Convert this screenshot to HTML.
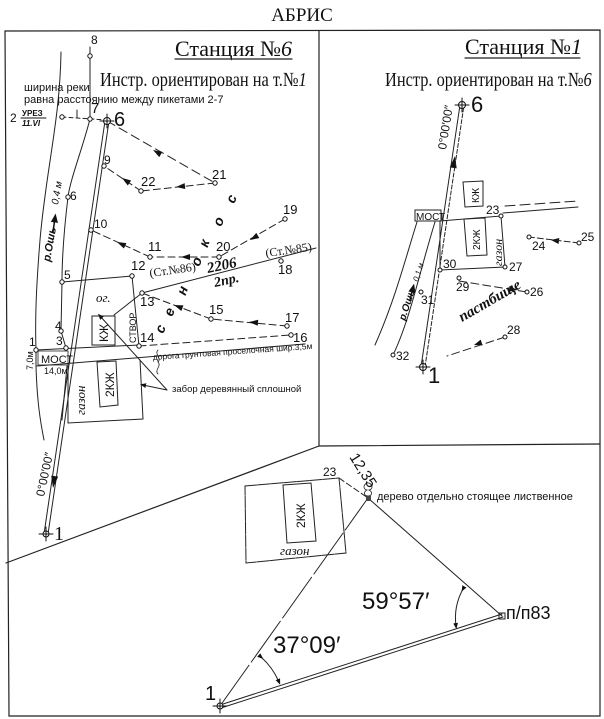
<!DOCTYPE html>
<html><head><meta charset="utf-8"><style>
html,body{margin:0;padding:0;background:#fff}
svg{display:block}
text{font-family:"Liberation Sans","DejaVu Sans",sans-serif;fill:#111}
.s{font-family:"Liberation Serif",serif}
.n{font-size:11px;font-family:"Liberation Sans Narrow","Liberation Sans",sans-serif}
</style></head><body>
<svg width="604" height="719" viewBox="0 0 604 719" xmlns="http://www.w3.org/2000/svg" stroke-linecap="round">
<defs>
<marker id="ar" viewBox="0 0 10 10" refX="5" refY="5" markerWidth="6" markerHeight="6" orient="auto"><path d="M0,1 L10,5 L0,9z" fill="#111"/></marker>
</defs>
<text x="302" y="21" font-size="19" text-anchor="middle" class="s">АБРИС</text>
<g fill="none" stroke="#222" stroke-width="1.2">
<path d="M5,31 L600,30 L600,716 L9,716 Z"/>
<path d="M319,31 L319,446 L600,444"/>
<path d="M6,563 L319,446"/>
</g>

<!-- ===== Station 6 ===== -->
<text x="175" y="56" font-size="22" class="s">Станция №<tspan font-style="italic">6</tspan></text>
<line x1="175" y1="59" x2="292" y2="59" stroke="#222" stroke-width="1.2"/>
<text x="100" y="86" font-size="20" class="s" transform="translate(100,86) scale(0.82,1) translate(-100,-86)">Инстр. ориентирован на т.№<tspan font-style="italic">1</tspan></text>
<text x="24" y="91" class="n" font-size="10">ширина реки</text>
<text x="24" y="103" class="n" font-size="10">равна расстоянию между пикетами 2-7</text>
<text x="10" y="122" font-size="12">2</text>
<text x="22" y="116" font-size="8" font-weight="bold">УРЕЗ</text>
<line x1="21" y1="118" x2="46" y2="118" stroke="#111"/>
<text x="22" y="126" font-size="8" font-weight="bold" font-style="italic">11.VI</text>
<g fill="none" stroke="#222" stroke-width="1">
<path d="M61,52 C60,120 46,170 40,240 C36,290 35,320 36,350"/>
<path d="M36,366 C37,400 40,420 44,440"/>
<path d="M90,47 L90,119 C82,150 70,180 68,197 C64,230 62,260 62,282 L61,331 L66,348"/>
<path d="M67,366 L62,420"/>
<line x1="62" y1="117" x2="107" y2="120" stroke-dasharray="4,3"/>
<line x1="77" y1="110" x2="77" y2="117"/>
<line x1="105" y1="121" x2="44" y2="534"/>
<line x1="109" y1="121" x2="48" y2="534"/>
<path d="M107,121 L215,183" stroke-dasharray="9,5"/>
<path d="M215,183 L141,191" stroke-dasharray="7,4"/>
<path d="M141,191 L104,166" stroke-dasharray="7,4"/>
<path d="M285,219 L219,257" stroke-dasharray="7,4"/>
<path d="M219,257 L150,257" stroke-dasharray="7,4"/>
<path d="M150,257 L91,230" stroke-dasharray="7,4"/>
<path d="M287,326 L211,319" stroke-dasharray="7,4"/>
<path d="M211,319 L142,293" stroke-dasharray="7,4"/>
<path d="M139,346 L291,335" stroke-dasharray="7,4"/>
<line x1="142" y1="293" x2="316" y2="248"/>
<path d="M62,282 L132,276 L139,346"/>
<path d="M114,315 L142,293"/>
<rect x="92" y="316" width="23" height="29"/>
<path d="M36,350 L139,345"/>
<path d="M37,366 L305,344"/>
<path d="M36,350 L36,366"/>
<rect x="38" y="351" width="30" height="14" stroke-width="0.8"/>
<path d="M68,366 L68,423 L143,419 L140,360"/>
<path d="M97,362 L116,361 L118,405 L100,407 Z"/>
<path d="M167,390 L100,316" marker-end="url(#ar)"/>
<path d="M167,390 L143,385" marker-end="url(#ar)"/>
<path d="M158,350 c-4,4 4,8 0,12 c4,4 -4,8 0,12" stroke-width="0.8"/>
</g>
<!-- arrowheads -->
<g fill="#111">
<path d="M0,0 L-9,-3 L-9,3z" transform="translate(153,150) rotate(210)"/>
<path d="M0,0 L-9,-3 L-9,3z" transform="translate(176,187) rotate(174)"/>
<path d="M0,0 L-9,-3 L-9,3z" transform="translate(122,178) rotate(214)"/>
<path d="M0,0 L-9,-3 L-9,3z" transform="translate(250,240) rotate(150)"/>
<path d="M0,0 L-9,-3 L-9,3z" transform="translate(181,257) rotate(180)"/>
<path d="M0,0 L-9,-3 L-9,3z" transform="translate(117,242) rotate(205)"/>
<path d="M0,0 L-9,-3 L-9,3z" transform="translate(249,322) rotate(185)"/>
<path d="M0,0 L-9,-3 L-9,3z" transform="translate(174,305) rotate(201)"/>
<path d="M0,0 L-12,-3.5 L-12,3.5z" transform="translate(53,488) rotate(98)"/>
<path d="M0,0 L-12,-3.5 L-12,3.5z" transform="translate(455,156) rotate(-81.5)"/>
<path d="M0,0 L-8,-3 L-8,3z" transform="translate(551,240) rotate(187)"/>
<path d="M0,0 L-8,-3 L-8,3z" transform="translate(517,290) rotate(9)"/>
<path d="M0,0 L-8,-3 L-8,3z" transform="translate(474,345) rotate(162)"/>
</g>
<g fill="#fff" stroke="#111" stroke-width="1">
<circle cx="90" cy="56" r="2.2"/><circle cx="90" cy="119" r="2.2"/><circle cx="62" cy="117" r="2.2"/>
<circle cx="104" cy="166" r="2.2"/><circle cx="91" cy="230" r="2.2"/><circle cx="141" cy="191" r="2.2"/>
<circle cx="215" cy="183" r="2.2"/><circle cx="150" cy="257" r="2.2"/><circle cx="219" cy="257" r="2.2"/>
<circle cx="285" cy="219" r="2.2"/><circle cx="132" cy="276" r="2.2"/><circle cx="142" cy="293" r="2.2"/>
<circle cx="281" cy="261" r="2.2"/><circle cx="211" cy="319" r="2.2"/><circle cx="287" cy="326" r="2.2"/>
<circle cx="291" cy="335" r="2.2"/><circle cx="139" cy="346" r="2.2"/><circle cx="68" cy="197" r="2.2"/>
<circle cx="62" cy="282" r="2.2"/><circle cx="61" cy="331" r="2.2"/><circle cx="66" cy="348" r="2.2"/>
<circle cx="36" cy="350" r="2.2"/>
<circle cx="107" cy="121" r="3.5"/><circle cx="46" cy="534" r="3"/>
</g>
<g stroke="#111"><line x1="100" y1="121" x2="114" y2="121"/><line x1="107" y1="114" x2="107" y2="128"/>
<line x1="39" y1="534" x2="53" y2="534"/><line x1="46" y1="527" x2="46" y2="541"/></g>
<g font-size="12">
<text x="91" y="44">8</text><text x="91" y="113" font-size="15">7</text><text x="114" y="126" font-size="20">6</text>
<text x="104" y="164">9</text><text x="94" y="228">10</text><text x="141" y="186" font-size="13">22</text>
<text x="212" y="179" font-size="13">21</text><text x="148" y="251" font-size="13">11</text><text x="216" y="251" font-size="13">20</text>
<text x="283" y="214" font-size="13">19</text><text x="131" y="270" font-size="13">12</text><text x="140" y="306" font-size="13">13</text>
<text x="278" y="274" font-size="13">18</text><text x="209" y="314" font-size="13">15</text><text x="285" y="322" font-size="13">17</text>
<text x="293" y="342" font-size="13">16</text><text x="140" y="342" font-size="13">14</text>
<text x="70" y="200">6</text><text x="64" y="279">5</text><text x="55" y="330">4</text><text x="56" y="345">3</text>
<text x="29" y="346">1</text><text x="54" y="540" font-size="20" class="s">1</text>
</g>
<text class="s" font-size="12" x="150" y="277" transform="rotate(-8 150 277)">(Ст.№86)</text>
<text class="s" font-size="12" x="266" y="257" transform="rotate(-8 266 257)">(Ст.№85)</text>
<text class="s" font-size="15" font-weight="bold" font-style="italic" x="208" y="273" transform="rotate(-12 208 273)">2206</text>
<text class="s" font-size="14" font-weight="bold" font-style="italic" x="215" y="287" transform="rotate(-12 215 287)">2пр.</text>
<g class="s" font-size="14" font-weight="bold" font-style="italic">
<text x="228" y="203" transform="rotate(-70 232 199)">с</text>
<text x="215" y="226" transform="rotate(-70 219 222)">о</text>
<text x="201" y="247" transform="rotate(-70 205 243)">к</text>
<text x="193" y="266" transform="rotate(-70 197 262)">о</text>
<text x="179" y="295" transform="rotate(-70 183 291)">н</text>
<text x="166" y="316" transform="rotate(-70 170 312)">е</text>
<text x="157" y="333" transform="rotate(-70 161 329)">с</text>
</g>
<text x="96" y="302" class="s" font-style="italic" font-size="13">ог.</text>
<text x="0" y="0" font-size="12" transform="translate(108,342) rotate(-90)">КЖ</text>
<text x="0" y="0" font-size="12" transform="translate(114,397) rotate(-90)">2КЖ</text>
<text x="0" y="0" font-size="13" class="s" font-style="italic" transform="translate(85,415) rotate(-90)">газон</text>
<text x="0" y="0" font-size="9" transform="translate(136,343) rotate(-90)">СТВОР</text>
<text x="41" y="363" font-size="11">МОСТ</text>
<text x="0" y="0" font-size="9" transform="translate(33,370) rotate(-90)">7,0м</text>
<text x="44" y="374" font-size="9">14,0м</text>
<text x="153" y="360" font-size="8.5" transform="rotate(-4 153 360)">дорога грунтовая проселочная шир.3,5м</text>
<text x="172" y="392" font-size="9.5">забор деревянный сплошной</text>
<text x="0" y="0" font-size="11" font-style="italic" font-weight="bold" transform="translate(50,262) rotate(-80)">р.Ошь</text>
<text x="0" y="0" font-size="10" font-style="italic" transform="translate(58,205) rotate(-80)">0,4 м</text>
<line x1="53" y1="232" x2="55" y2="218" stroke="#111" stroke-width="1.5" marker-end="url(#ar)"/>
<text x="0" y="0" font-size="12" transform="translate(44,497) rotate(-78)">0°00′00″</text>

<!-- ===== Station 1 ===== -->
<text x="465" y="54" font-size="22" class="s">Станция №<tspan font-style="italic">1</tspan></text>
<line x1="465" y1="58" x2="580" y2="58" stroke="#222" stroke-width="1.2"/>
<text x="385" y="86" font-size="20" class="s" transform="translate(385,86) scale(0.82,1) translate(-385,-86)">Инстр. ориентирован на т.№<tspan font-style="italic">6</tspan></text>
<g fill="none" stroke="#222" stroke-width="1">
<line x1="421" y1="367" x2="460" y2="105"/>
<line x1="425" y1="367" x2="464" y2="105" stroke-dasharray="4,2"/>
<path d="M375,345 C395,300 405,260 417,222"/>
<path d="M393,355 C410,320 420,270 435,222"/>
<rect x="415" y="210" width="26" height="11"/>
<path d="M440,221 L501,216 L505,267 L440,270 Z"/>
<path d="M503,213 L578,207"/>
<path d="M505,206 L578,201" stroke-dasharray="10,5"/>
<path d="M463,182 L483,181 L483,206 L465,207 Z"/>
<path d="M464,219 L485,218 L487,255 L467,256 Z"/>
<path d="M579,243 L529,237" stroke-dasharray="6,3"/>
<path d="M459,281 L527,292" stroke-dasharray="8,4"/>
<path d="M505,337 L447,356" stroke-dasharray="8,4"/>
</g>
<g fill="#fff" stroke="#111">
<circle cx="462" cy="105" r="3.5"/><circle cx="423" cy="367" r="3.5"/>
<circle cx="501" cy="216" r="2"/><circle cx="505" cy="267" r="2"/><circle cx="440" cy="270" r="2"/>
<circle cx="529" cy="237" r="2"/><circle cx="579" cy="243" r="2"/><circle cx="459" cy="278" r="2"/>
<circle cx="527" cy="292" r="2"/><circle cx="505" cy="337" r="2"/><circle cx="393" cy="355" r="2"/><circle cx="421" cy="292" r="2"/>
</g>
<g stroke="#111"><line x1="455" y1="105" x2="469" y2="105"/><line x1="462" y1="98" x2="462" y2="112"/>
<line x1="416" y1="367" x2="430" y2="367"/><line x1="423" y1="360" x2="423" y2="374"/></g>
<g font-size="12">
<text x="471" y="112" font-size="22">6</text><text x="428" y="383" font-size="22">1</text>
<text x="486" y="214">23</text><text x="509" y="271">27</text><text x="443" y="268">30</text>
<text x="532" y="250">24</text><text x="581" y="241">25</text><text x="456" y="291">29</text>
<text x="530" y="296">26</text><text x="507" y="334">28</text><text x="396" y="360">32</text><text x="421" y="304">31</text>
</g>
<text x="416" y="220" font-size="10">МОСТ</text>
<text x="0" y="0" font-size="10" transform="translate(479,203) rotate(-90)">КЖ</text>
<text x="0" y="0" font-size="10" transform="translate(480,250) rotate(-90)">2КЖ</text>
<text x="0" y="0" font-size="12" class="s" font-style="italic" transform="translate(502,266) rotate(-90)">газон</text>
<text x="0" y="0" font-size="12" transform="translate(446,150) rotate(-81)">0°00′00″</text>
<text x="0" y="0" font-size="15" class="s" font-style="italic" font-weight="bold" transform="translate(462,322) rotate(-30)">пастбище</text>
<text x="0" y="0" font-size="10" font-style="italic" font-weight="bold" transform="translate(405,321) rotate(-72)">р.Ошь</text>
<line x1="410" y1="300" x2="413" y2="288" stroke="#111" stroke-width="1.5" marker-end="url(#ar)"/>
<text x="0" y="0" font-size="8" font-style="italic" transform="translate(418,282) rotate(-72)">0,1 м</text>

<!-- ===== Bottom ===== -->
<g fill="none" stroke="#222" stroke-width="1">
<path d="M245,486 L339,478 L346,553 L246,563 Z" stroke-dasharray="12,1"/>
<path d="M283,485 L311,483 L316,541 L287,543 Z"/>
<path d="M220,706 L368,498" stroke-dasharray="50,4"/>
<path d="M339,478 L368,498" stroke-dasharray="6,3"/>
<path d="M368,498 L502,616"/>
<line x1="220" y1="705" x2="502" y2="614"/>
<line x1="221" y1="708" x2="503" y2="617"/>
<path d="M261,657 A70,70 0 0 1 279,682" marker-start="url(#ar)" marker-end="url(#ar)"/>
<path d="M463,589 A60,60 0 0 0 456,626" marker-start="url(#ar)" marker-end="url(#ar)"/>
<rect x="499" y="613" width="6" height="6"/>
<path d="M367,483 c-4,2 -4,6 0,7 c-4,2 -3,6 1,6 c4,0 5,-4 1,-6 c4,-1 4,-5 0,-7z" stroke-width="0.8"/>
</g>
<rect x="366" y="496" width="5" height="5" fill="#444"/>
<circle cx="220" cy="706" r="3" fill="#fff" stroke="#111"/>
<g stroke="#111"><line x1="213" y1="706" x2="227" y2="706"/><line x1="220" y1="699" x2="220" y2="713"/></g>
<text x="205" y="700" font-size="20" fill="#333">1</text>
<text x="323" y="476" font-size="12">23</text>
<text x="0" y="0" font-size="15" transform="translate(349,457) rotate(58)">12,35</text>
<text x="377" y="500" font-size="9.5" class="n">дерево отдельно стоящее лиственное</text>
<text x="0" y="0" font-size="12" transform="translate(305,528) rotate(-90)">2КЖ</text>
<text x="280" y="555" font-size="13" class="s" font-style="italic">газон</text>
<text x="362" y="609" font-size="24" fill="#333">59°57′</text>
<text x="273" y="653" font-size="24" fill="#333">37°09′</text>
<text x="506" y="619" font-size="18" fill="#333">п/п83</text>
</svg>
</body></html>
